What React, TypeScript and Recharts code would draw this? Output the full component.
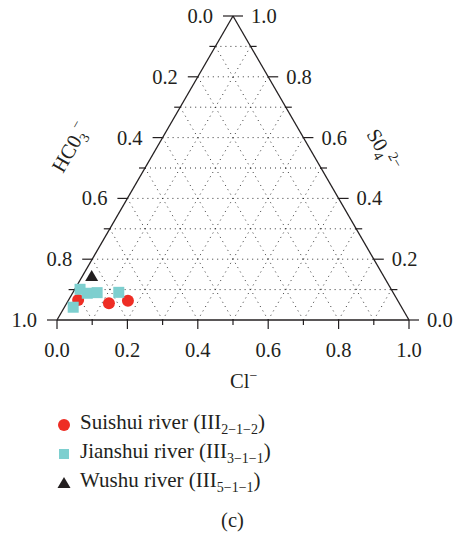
import { ScatterChart, Scatter, XAxis, YAxis, ReferenceLine } from 'recharts';

// ternary readings (HCO3- = 1 - Cl- - SO4 2-)
const seriesNames = ['Suishui river', 'Jianshui river', 'Wushu river'];
const seriesCodes = ['2−1−2', '3−1−1', '5−1−1'];
const suishuiCl = [0.027, 0.12, 0.17];
const suishuiSO4 = [0.066, 0.055, 0.063];
const jianshuiCl = [0.015, 0.042, 0.069, 0.13, 0.025];
const jianshuiSO4 = [0.101, 0.088, 0.09, 0.091, 0.042];
const wushuCl = [0.026];
const wushuSO4 = [0.145];

const majorTicks = [0, 0.2, 0.4, 0.6, 0.8, 1.0];
const minorTicks = [0.1, 0.3, 0.5, 0.7, 0.9];
const gridLevels = [0.1, 0.2, 0.3, 0.4, 0.5, 0.6, 0.7, 0.8, 0.9];

const ink = '#231f20';
const red = '#ee2d24';
const cyan = '#7dcfcf';
const font = '"Liberation Serif", "Times New Roman", serif';

// place a ternary composition in the triangle (base 0..1, apex at y = 1)
const toXY = (cl: number[], so4: number[]) => cl.map((c, i) => ({ x: c + so4[i] / 2, y: so4[i] }));

const suishui = toXY(suishuiCl, suishuiSO4);
const jianshui = toXY(jianshuiCl, jianshuiSO4);
const wushu = toXY(wushuCl, wushuSO4);

const allTicks = [
  ...majorTicks.map((v) => ({ v, major: true })),
  ...minorTicks.map((v) => ({ v, major: false })),
];
const leftTicks = allTicks.map((t) => ({ x: t.v / 2, y: t.v, major: t.major, label: (1 - t.v).toFixed(1) }));
const rightTicks = allTicks.map((t) => ({ x: 1 - t.v / 2, y: t.v, major: t.major, label: t.v.toFixed(1) }));
const bottomTicks = allTicks.map((t) => ({ x: t.v, y: 0, major: t.major, label: t.v.toFixed(1) }));

const textStyle = { fontFamily: font, fontSize: 20.5, fill: ink };

const LeftTick = (p: any) => {
  const { cx, cy, payload } = p;
  return (
    <g>
      <line x1={cx - (payload.major ? 10 : 6)} y1={cy} x2={cx + (payload.major ? 0 : 1)} y2={cy} stroke={ink} strokeWidth={1.2} />
      {payload.major && (
        <text x={cx - 20} y={cy + 7} textAnchor="end" style={textStyle}>{payload.label}</text>
      )}
    </g>
  );
};

const RightTick = (p: any) => {
  const { cx, cy, payload } = p;
  return (
    <g>
      <line x1={cx - (payload.major ? 0 : 1)} y1={cy} x2={cx + (payload.major ? 10 : 6)} y2={cy} stroke={ink} strokeWidth={1.2} />
      {payload.major && (
        <text x={cx + 18} y={cy + 7} textAnchor="start" style={textStyle}>{payload.label}</text>
      )}
    </g>
  );
};

const BottomTick = (p: any) => {
  const { cx, cy, payload } = p;
  return (
    <g>
      <line x1={cx} y1={cy} x2={cx} y2={cy + (payload.major ? 9 : 5)} stroke={ink} strokeWidth={1.2} />
      {payload.major && (
        <text x={cx} y={cy + 37} textAnchor="middle" style={textStyle}>{payload.label}</text>
      )}
    </g>
  );
};

const Dot = (p: any) => <circle cx={p.cx} cy={p.cy} r={6} fill={red} />;
const Square = (p: any) => <rect x={p.cx - 5.5} y={p.cy - 5.5} width={11} height={11} fill={cyan} />;
const Tri = (p: any) => (
  <polygon points={`${p.cx},${p.cy - 6} ${p.cx - 6.5},${p.cy + 5} ${p.cx + 6.5},${p.cy + 5}`} fill={ink} />
);

const legendIcons = [
  <circle cx={8} cy={8} r={6} fill={red} />,
  <rect x={3} y={3} width={10} height={10} fill={cyan} />,
  <polygon points="8,2 1.5,13 14.5,13" fill={ink} />,
];

export default function App() {
  const gridProps = { stroke: '#333', strokeWidth: 1, strokeDasharray: '1 4', ifOverflow: 'visible' as const };
  return (
    <div style={{ position: 'absolute', left: 0, top: 0, width: 455, height: 539 }}>
      <ScatterChart width={455} height={539} margin={{ top: 16, right: 46, bottom: 219, left: 57 }}>
        <XAxis type="number" dataKey="x" domain={[0, 1]} hide />
        <YAxis type="number" dataKey="y" domain={[0, 1]} hide />

        {gridLevels.map((k) => (
          <ReferenceLine key={`h${k}`} segment={[{ x: k / 2, y: k }, { x: 1 - k / 2, y: k }]} {...gridProps} />
        ))}
        {gridLevels.map((k) => (
          <ReferenceLine key={`l${k}`} segment={[{ x: k, y: 0 }, { x: k + (1 - k) / 2, y: 1 - k }]} {...gridProps} />
        ))}
        {gridLevels.map((k) => (
          <ReferenceLine key={`r${k}`} segment={[{ x: 1 - k, y: 0 }, { x: (1 - k) / 2, y: 1 - k }]} {...gridProps} />
        ))}

        <ReferenceLine segment={[{ x: 0, y: 0 }, { x: 1, y: 0 }]} stroke={ink} strokeWidth={1.3} ifOverflow="visible" />
        <ReferenceLine segment={[{ x: 0, y: 0 }, { x: 0.5, y: 1 }]} stroke={ink} strokeWidth={1.3} ifOverflow="visible" />
        <ReferenceLine segment={[{ x: 1, y: 0 }, { x: 0.5, y: 1 }]} stroke={ink} strokeWidth={1.3} ifOverflow="visible" />

        <Scatter data={leftTicks} shape={LeftTick} isAnimationActive={false} legendType="none" />
        <Scatter data={rightTicks} shape={RightTick} isAnimationActive={false} legendType="none" />
        <Scatter data={bottomTicks} shape={BottomTick} isAnimationActive={false} legendType="none" />

        <Scatter name={seriesNames[0]} data={suishui} shape={Dot} isAnimationActive={false} />
        <Scatter name={seriesNames[1]} data={jianshui} shape={Square} isAnimationActive={false} />
        <Scatter name={seriesNames[2]} data={wushu} shape={Tri} isAnimationActive={false} />
      </ScatterChart>

      <svg width={455} height={539} style={{ position: 'absolute', left: 0, top: 0, pointerEvents: 'none' }}>
        <text transform="translate(63,174) rotate(-60)" style={textStyle}>
          HC0<tspan fontSize={14} dy={5}>3</tspan><tspan fontSize={14} dy={-14}>−</tspan>
        </text>
        <text transform="translate(366,134) rotate(60)" style={textStyle}>
          S0<tspan fontSize={14} dy={5}>4</tspan><tspan fontSize={14} dy={-13} dx={1}>2−</tspan>
        </text>
        <text x={230} y={388} style={textStyle}>
          Cl<tspan fontSize={14} dy={-8}>−</tspan>
        </text>
      </svg>

      <div style={{ position: 'absolute', left: 56, top: 410, fontFamily: font, fontSize: 21, color: ink }}>
        {seriesNames.map((n, i) => (
          <div key={n} style={{ display: 'flex', alignItems: 'center', height: 29 }}>
            <svg width={16} height={16} style={{ marginRight: 8 }}>{legendIcons[i]}</svg>
            <span>
              {n} (III<sub style={{ fontSize: 14 }}>{seriesCodes[i]}</sub>)
            </span>
          </div>
        ))}
      </div>
      <div style={{ position: 'absolute', left: 0, width: 465, top: 509, textAlign: 'center', fontFamily: font, fontSize: 20.5, color: ink }}>
        (c)
      </div>
    </div>
  );
}
